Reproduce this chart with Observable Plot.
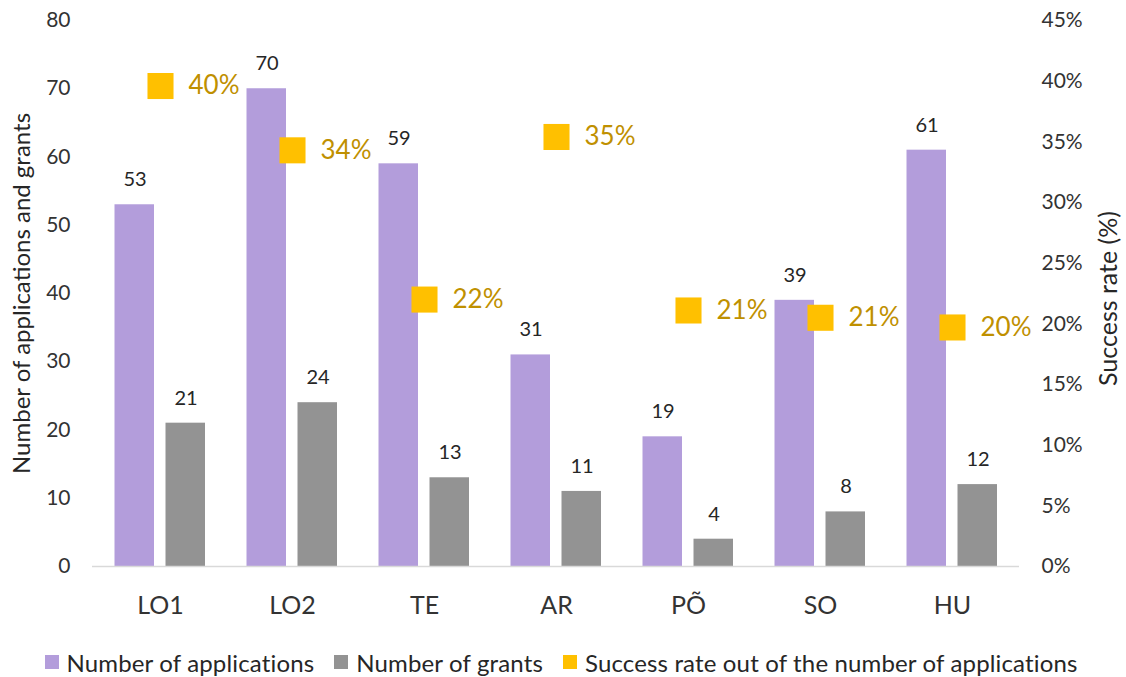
<!DOCTYPE html>
<html>
<head>
<meta charset="utf-8">
<script src="https://cdn.jsdelivr.net/npm/d3@7"></script>
<script src="https://cdn.jsdelivr.net/npm/@observablehq/plot@0.6"></script>
<style>
  body { margin: 0; background: #fff; font-family: Lato, "Open Sans", sans-serif; }
  #legend { display: flex; justify-content: center; align-items: center; gap: 20px; height: 42px; padding-top: 6px; font-size: 24px; letter-spacing: 0.15px; color: #262626; margin-left: -4px; }
  #legend .item { display: flex; align-items: center; gap: 8px; }
  #legend .sw { width: 14px; height: 14px; display: inline-block; }
</style>
</head>
<body>
<div id="chart"></div>
<div id="legend"></div>
<script>
const categories = ["LO1", "LO2", "TE", "AR", "PÕ", "SO", "HU"];
const applications = [53, 70, 59, 31, 19, 39, 61];
const grants = [21, 24, 13, 11, 4, 8, 12];
const successRate = [0.396, 0.343, 0.220, 0.354, 0.211, 0.205, 0.197];
const leftTicks = [0, 10, 20, 30, 40, 50, 60, 70, 80];
const rightTicks = [0, 0.05, 0.10, 0.15, 0.20, 0.25, 0.30, 0.35, 0.40, 0.45];
const seriesNames = ["Number of applications", "Number of grants", "Success rate out of the number of applications"];
const colors = ["#b39ddb", "#939393", "#ffc000"];

const yMax = 80, rMax = 0.45;
const toY = r => r * yMax / rMax;

const data = categories.map((c, i) => ({
  cat: c, apps: applications[i], grants: grants[i], rate: successRate[i], rateY: toY(successRate[i])
}));

const plot = Plot.plot({
  width: 1126,
  height: 635,
  marginLeft: 92,
  marginRight: 107,
  marginTop: 20,
  marginBottom: 69,
  style: { fontFamily: "Lato, 'Open Sans', sans-serif", color: "#333", background: "#fff" },
  x: { domain: categories, padding: 0 },
  y: { domain: [0, yMax] },
  marks: [
    Plot.barY(data, { x: "cat", y: "apps", fill: colors[0], insetLeft: 20.5, insetRight: 72 }),
    Plot.barY(data, { x: "cat", y: "grants", fill: colors[1], insetLeft: 71.5, insetRight: 21 }),
    Plot.ruleY([0], { stroke: "#d9d9d9", strokeWidth: 1.5 }),
    Plot.text(data, { x: "cat", y: "apps", text: d => String(d.apps), dx: -25.5, dy: -25, fontSize: 20, fill: "#262626" }),
    Plot.text(data, { x: "cat", y: "grants", text: d => String(d.grants), dx: 25.5, dy: -25, fontSize: 20, fill: "#262626" }),
    Plot.dot(data, { x: "cat", y: "rateY", symbol: "square", r: 14.7, fill: colors[2], stroke: null }),
    Plot.text(data, { x: "cat", y: "rateY", text: d => Math.round(d.rate * 100) + "%", dx: 28, textAnchor: "start", fontSize: 26, fill: "#bf9000" }),
    Plot.axisY(leftTicks, { anchor: "left", tickSize: 0, tickPadding: 22, fontSize: 21, label: null }),
    Plot.axisY(rightTicks.map(toY), { anchor: "right", tickSize: 0, tickPadding: 22, fontSize: 21, label: null,
      tickFormat: d => Math.round(d * rMax / yMax * 100) + "%" }),
    Plot.axisX({ tickSize: 0, tickPadding: 30, fontSize: 25, label: null }),
    Plot.text(["Number of applications and grants"], { frameAnchor: "left", textAnchor: "middle", rotate: -90, dx: -70, fontSize: 24, fill: "#262626" }),
    Plot.text(["Success rate (%)"], { frameAnchor: "right", textAnchor: "middle", rotate: -90, dx: 89, dy: 5, fontSize: 25, fill: "#262626" })
  ]
});
document.getElementById("chart").appendChild(plot);

const legend = d3.select("#legend");
seriesNames.forEach((name, i) => {
  const item = legend.append("div").attr("class", "item");
  item.append("span").attr("class", "sw").style("background", colors[i]);
  item.append("span").text(name);
});
</script>
</body>
</html>
